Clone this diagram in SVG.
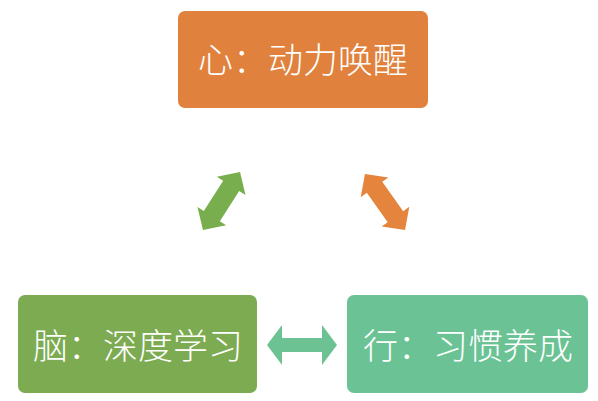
<svg xmlns="http://www.w3.org/2000/svg" width="598" height="401" viewBox="0 0 598 401">
<style>
.lbl{font-family:"Noto Sans CJK SC","Noto Sans",sans-serif;font-size:35px;font-weight:300;fill:#ffffff;text-anchor:middle;dominant-baseline:central}
</style>
<rect width="598" height="401" fill="#ffffff"/>
<g id="node-heart">
<rect x="178" y="11" width="250" height="97" rx="7" fill="#E0823E"/>
<text class="lbl" x="303" y="57">心：动力唤醒</text>
</g>
<g id="node-brain">
<rect x="18" y="295" width="239" height="98" rx="7" fill="#7DAB52"/>
<text class="lbl" x="138" y="343">脑：深度学习</text>
</g>
<g id="node-action">
<rect x="347" y="295" width="241" height="98" rx="7" fill="#6BC395"/>
<text class="lbl" x="468" y="343">行：习惯养成</text>
</g>
<g id="connectors">
<polygon transform="translate(221.5,201) rotate(-57.5)" fill="#79AE4E" points="-34.5,0 -18,-17 -18,-9.5 18,-9.5 18,-17 34.5,0 18,17 18,9.5 -18,9.5 -18,17"/>
<polygon transform="translate(385,202) rotate(54.5)" fill="#E5843C" points="-34.5,0 -18,-17 -18,-9.5 18,-9.5 18,-17 34.5,0 18,17 18,9.5 -18,9.5 -18,17"/>
<polygon transform="translate(302,345)" fill="#6CC293" points="-35,0 -20,-20 -20,-7 20,-7 20,-20 35,0 20,20 20,7 -20,7 -20,20"/>
</g>
</svg>
